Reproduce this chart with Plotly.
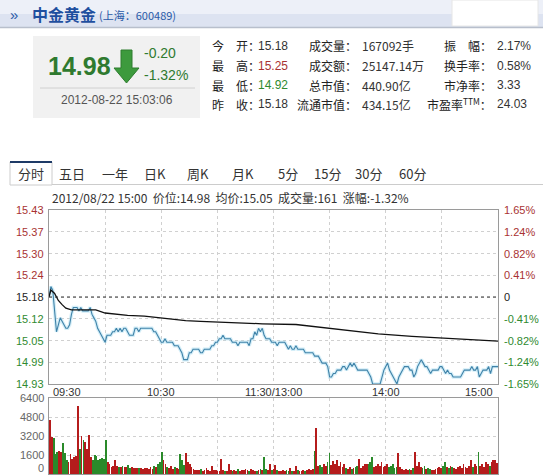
import plotly.graph_objects as go

# ---------------- data ----------------
price = [
    15.18, 15.21, 15.20, 15.14, 15.08, 15.10, 15.12, 15.11, 15.10, 15.09,
    15.09, 15.10, 15.13, 15.15, 15.15, 15.15, 15.14, 15.15, 15.14, 15.14,
    15.14, 15.14, 15.15, 15.13, 15.12, 15.11, 15.09, 15.08, 15.07, 15.06,
    15.05, 15.07, 15.07, 15.07, 15.08, 15.08, 15.09, 15.08, 15.09, 15.08,
    15.09, 15.09, 15.08, 15.07, 15.07, 15.07, 15.09, 15.09, 15.08, 15.09,
    15.09, 15.09, 15.09, 15.09, 15.09, 15.09, 15.08, 15.08, 15.07, 15.06,
    15.05, 15.05, 15.06, 15.05, 15.05, 15.05, 15.05, 15.04, 15.04, 15.04,
    15.03, 15.02, 15.00, 15.00, 15.00, 15.02, 15.02, 15.03, 15.03, 15.03,
    15.03, 15.02, 15.02, 15.03, 15.03, 15.03, 15.03, 15.04, 15.04, 15.05,
    15.05, 15.06, 15.06, 15.07, 15.06, 15.06, 15.06, 15.06, 15.05, 15.05,
    15.05, 15.04, 15.05, 15.05, 15.05, 15.05, 15.05, 15.04, 15.06, 15.06,
    15.08, 15.07, 15.09, 15.08, 15.09, 15.07, 15.06, 15.06, 15.06, 15.05,
    15.05, 15.05, 15.04, 15.05, 15.05, 15.05, 15.05, 15.04, 15.03, 15.04,
    15.03, 15.03, 15.04, 15.03, 15.03, 15.03, 15.03, 15.02, 15.02, 15.02,
    15.02, 15.02, 15.01, 15.01, 15.01, 15.00, 14.99, 14.99, 14.99, 14.98,
    14.95, 14.95, 14.96, 14.96, 14.97, 14.97, 14.97, 14.98, 14.98, 14.97,
    14.98, 14.99, 14.98, 14.99, 14.98, 14.97, 14.97, 14.97, 14.97, 14.97,
    14.97, 14.96, 14.95, 14.93, 14.93, 14.93, 14.93, 14.93, 14.95, 14.97,
    14.98, 14.99, 14.97, 14.96, 14.95, 14.94, 14.93, 14.95, 14.96, 14.97,
    14.98, 14.98, 14.98, 14.97, 14.97, 14.95, 14.96, 14.98, 14.99, 15.00,
    14.99, 14.98, 14.98, 14.97, 14.96, 14.97, 14.97, 14.97, 14.97, 14.98,
    14.98, 14.97, 14.96, 14.97, 14.96, 14.96, 14.95, 14.95, 14.95, 14.95,
    14.95, 14.96, 14.97, 14.97, 14.97, 14.97, 14.98, 14.97, 14.97, 14.98,
    14.95, 14.96, 14.97, 14.97, 14.97, 14.98, 14.96, 14.98, 14.98, 14.98,
    14.98,
]

avg_minutes = [0, 1, 3, 5, 7, 9, 12, 25, 30, 42, 51, 60, 73, 81, 89, 114,
               132, 140, 149, 161, 176, 194, 212, 230, 240]
avg_price = [15.18, 15.20, 15.19, 15.17, 15.158, 15.148, 15.143, 15.143,
             15.134, 15.127, 15.125, 15.120, 15.112, 15.110, 15.108, 15.103,
             15.101, 15.096, 15.089, 15.083, 15.074, 15.067, 15.062, 15.057,
             15.053]

volume = [
    4550, 3100, 3050, 1650, 1850, 1930, 1850, 2650, 1780, 1140,
    1000, 1650, 1280, 1470, 1500, 5750, 2130, 3190, 2840, 2700,
    2130, 3270, 1420, 1140, 1560, 1480, 1140, 1280, 1340, 1280,
    2840, 1000, 850, 620, 680, 1140, 700, 600, 560, 700,
    560, 620, 740, 500, 600, 520, 480, 500, 520, 480,
    460, 500, 520, 450, 600, 450, 700, 600, 850, 1000,
    1850, 1140, 850, 600, 500, 650, 450, 560, 500, 450,
    1650, 1140, 760, 1760, 1000, 850, 620, 400, 300, 350,
    300, 450, 280, 320, 500, 300, 260, 640, 350, 300,
    250, 280, 1280, 350, 280, 250, 850, 300, 250, 350,
    250, 400, 280, 350, 300, 400, 300, 260, 450, 300,
    250, 280, 350, 400, 300, 1420, 400, 300, 850, 300,
    400, 800, 300, 250, 280, 320, 250, 300, 260, 500,
    280, 250, 700, 300, 250, 280, 300, 250, 320, 400,
    350, 450, 1900, 3840, 700, 800, 600, 850, 700, 1000,
    1760, 800, 1100, 850, 1140, 700, 1000, 600, 850, 500,
    400, 600, 450, 500, 600, 700, 1280, 500, 700, 850,
    850, 850, 1000, 1420, 600, 700, 850, 700, 1000, 600,
    650, 850, 600, 700, 850, 500, 600, 1760, 600, 400,
    350, 400, 300, 450, 350, 500, 1850, 700, 1000, 600,
    500, 700, 400, 500, 450, 300, 350, 450, 500, 600,
    500, 700, 1000, 600, 500, 700, 600, 500, 450, 600,
    700, 500, 850, 600, 500, 700, 1140, 600, 850, 700,
    1850, 700, 850, 600, 1000, 850, 700, 1000, 1140, 1220,
    900,
]

prev_close = 15.18
price_ticks = ["15.43", "15.37", "15.30", "15.24", "15.18", "15.12", "15.05", "14.99", "14.93"]
pct_ticks = ["1.65%", "1.24%", "0.82%", "0.41%", "0", "-0.41%", "-0.82%", "-1.24%", "-1.65%"]
vol_ticks = [6400, 4800, 3200, 1600, 0]
time_ticks = ["09:30", "10:30", "11:30/13:00", "14:00", "15:00"]
time_tick_minutes = [0, 60, 120, 180, 240]
tabs = ["分时", "五日", "一年", "日K", "周K", "月K", "5分", "15分", "30分", "60分"]

# ---------------- helpers ----------------
W, H = 543, 475
minutes = list(range(len(price)))
FONT = "Liberation Sans, Arial, Noto Sans CJK SC"
CJK = "Noto Sans CJK SC, Liberation Sans"
RED = "#a83232"
GREEN = "#2f8a2f"

annotations = []
shapes = []


def px(x):
    return x / W


def py(y):
    return 1 - y / H


def text(x, y, s, size=12, color="#333", anchor="left", family=CJK, **kw):
    annotations.append(dict(
        x=px(x), y=py(y), xref="paper", yref="paper", text=s, showarrow=False,
        xanchor=anchor, yanchor="middle", font=dict(size=size, color=color, family=family),
        **kw))


def rect(x0, y0, x1, y1, fill, line=None, lw=0):
    shapes.append(dict(type="rect", xref="paper", yref="paper",
                       x0=px(x0), x1=px(x1), y0=py(y1), y1=py(y0),
                       fillcolor=fill, line=dict(color=line or fill, width=lw), layer="below"))


def hline(x0, x1, y, color, width=1, dash="solid"):
    shapes.append(dict(type="line", xref="paper", yref="paper",
                       x0=px(x0), x1=px(x1), y0=py(y), y1=py(y),
                       line=dict(color=color, width=width, dash=dash)))


# ---------------- figure ----------------
fig = go.Figure()

# price halo + line
fig.add_trace(go.Scatter(x=minutes, y=price, mode="lines", xaxis="x", yaxis="y",
                         line=dict(color="rgba(170,222,242,0.5)", width=3.5), hoverinfo="skip"))
fig.add_trace(go.Scatter(x=minutes, y=price, mode="lines", xaxis="x", yaxis="y",
                         line=dict(color="#3f82a8", width=1.1)))
fig.add_trace(go.Scatter(x=avg_minutes, y=avg_price, mode="lines", xaxis="x", yaxis="y",
                         line=dict(color="#111111", width=1.3)))

vol_colors = []
for i, p in enumerate(price):
    prev = price[i - 1] if i > 0 else prev_close
    vol_colors.append("#b51c1c" if p >= prev else "#2a8a2a")
fig.add_trace(go.Bar(x=minutes, y=volume, xaxis="x2", yaxis="y2",
                     marker=dict(color=vol_colors, line=dict(width=0)), width=0.42))

# y tick positions
n = len(price_ticks) - 1
price_vals = [prev_close + 0.25 - k * 0.5 / n for k in range(n + 1)]

# ---------------- layout: axes ----------------
X0, X1 = 49, 498
grid = dict(showgrid=True, gridcolor="#d0d0d0", griddash="dot", gridwidth=1,
            showline=True, linecolor="#9a9a9a", linewidth=1, mirror=True,
            zeroline=False, showticklabels=False, ticks="")
fig.update_layout(
    width=W, height=H, margin=dict(l=0, r=0, t=0, b=0),
    paper_bgcolor="white", plot_bgcolor="white", showlegend=False,
    bargap=0,
    xaxis=dict(domain=[px(X0), px(X1)], range=[0, 240], tickvals=list(range(0, 241, 30)),
               anchor="y", **grid),
    yaxis=dict(domain=[py(384), py(210)], range=[price_vals[-1], price_vals[0]],
               tickvals=price_vals, anchor="x", **grid),
    xaxis2=dict(domain=[px(X0), px(X1)], range=[-0.5, 240.5], tickvals=list(range(0, 241, 30)),
                anchor="y2", **grid),
    yaxis2=dict(domain=[py(474), py(398)], range=[0, 6400], tickvals=vol_ticks,
                anchor="x2", **grid),
)

# previous close dashed line
shapes.append(dict(type="line", xref="x", yref="y", x0=0, x1=240, y0=prev_close, y1=prev_close,
                   line=dict(color="#333", width=1, dash="dot")))

# price axis labels
for v, lab, pl in zip(price_vals, price_ticks, pct_ticks):
    col = RED if v > prev_close + 1e-9 else (GREEN if v < prev_close - 1e-9 else "#222")
    annotations.append(dict(x=px(46), y=v, xref="paper", yref="y", text=lab, showarrow=False,
                            xanchor="right", yanchor="middle",
                            font=dict(size=11, color=col, family=FONT)))
    annotations.append(dict(x=px(502), y=v, xref="paper", yref="y", text=pl, showarrow=False,
                            xanchor="left", yanchor="middle",
                            font=dict(size=11, color=col, family=FONT)))
for v in vol_ticks:
    annotations.append(dict(x=px(46), y=v, xref="paper", yref="y2", text=str(v), showarrow=False,
                            xanchor="right", yanchor="middle", yshift=(6 if v == 0 else 0),
                            font=dict(size=11, color="#666", family=FONT)))
for m, lab in zip(time_tick_minutes, time_ticks):
    anc = "left" if m == 0 else ("right" if m == 240 else "center")
    xs = 2 if m == 0 else (-3 if m == 240 else 0)
    annotations.append(dict(x=m, y=py(392), xref="x", yref="paper", text=lab, showarrow=False,
                            xanchor=anc, yanchor="middle", xshift=xs,
                            font=dict(size=11, color="#333", family=FONT)))

# ---------------- header ----------------
rect(0, 0, 543, 14, "#edf0f8")
rect(0, 14, 543, 27, "#dde3f1")
hline(0, 543, 27.5, "#b8bfcc", 1.5)
rect(452, 0, 538, 26, "#ffffff", "#e6e6e6", 1)
text(8, 14, "»", 15, "#2a5aa8", family=FONT)
text(30, 14, "<b>中金黄金</b>", 16, "#1f4f9f")
text(97, 15, "(上海：600489)", 11, "#2a5aa8")

# quote box
rect(33, 36, 200, 118, "#f1f1f1")
text(79, 66, "<b>14.98</b>", 25, "#2f7a2f", anchor="center", family=FONT)
shapes.append(dict(type="path", xref="paper", yref="paper",
                   path="M {a},{b} L {c},{b} L {c},{d} L {e},{d} L {f},{g} L {h},{d} L {i},{d} Z".format(
                       a=px(121), b=py(50), c=px(132), d=py(68), e=px(139), f=px(126.5), g=py(83),
                       h=px(114), i=px(121)),
                   fillcolor="#3d9a3d", line=dict(color="#2e7d2e", width=1)))
text(142, 53, "-0.20", 14, "#2f7a2f", family=FONT)
text(142, 75, "-1.32%", 14, "#2f7a2f", family=FONT)
hline(40, 195, 88, "#d0d0d0", 1)
text(117, 100, "2012-08-22 15:03:06", 12, "#555", anchor="center", family=FONT)

# info table
rows_y = [46, 66, 85, 104]
col1 = [("今", "开：", "15.18", "#333"), ("最", "高：", "15.25", RED),
        ("最", "低：", "14.92", GREEN), ("昨", "收：", "15.18", "#333")]
col2 = [("成交量：", "167092手"), ("成交额：", "25147.14万"),
        ("总市值：", "440.90亿"), ("流通市值：", "434.15亿")]
col3 = [("振　幅：", "2.17%"), ("换手率：", "0.58%"),
        ("市净率：", "3.33"), ("市盈率<sup>TTM</sup>：", "24.03")]
for y, (a, b, v, c), (l2, v2), (l3, v3) in zip(rows_y, col1, col2, col3):
    text(210, y, a, 12, "#222")
    text(234, y, b, 12, "#222")
    text(256, y, v, 12, c, family=FONT)
    text(359, y, l2, 12, "#222", anchor="right")
    text(360, y, v2, 12, "#333")
    text(494, y, l3, 12, "#222", anchor="right")
    text(495, y, v3, 12, "#333", family=FONT)

# tabs
tab_x = [31, 72, 115, 155, 198, 243, 288, 327, 368, 412]
hline(52, 543, 184.5, "#cccccc", 1)
rect(10, 162, 52, 185, "#ffffff", "#cccccc", 1)
hline(10, 52, 162, "#1e3a66", 2)
for tx, t in zip(tab_x, tabs):
    text(tx, 173, t, 13, "#333", anchor="center")

text(50, 197, "2012/08/22 15:00  价位:14.98  均价:15.05  成交量:161  涨幅:-1.32%", 12, "#333")

fig.update_layout(annotations=annotations, shapes=shapes)
fig.write_html("out.html", config={"displayModeBar": False},
               post_script="document.body.style.margin='0';document.body.style.overflow='hidden';")
